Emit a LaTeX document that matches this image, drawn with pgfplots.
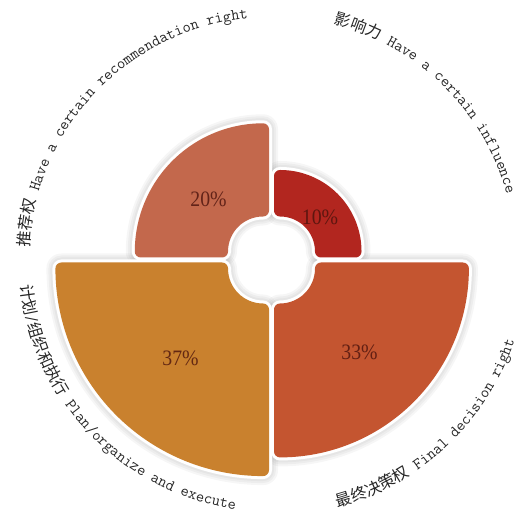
\documentclass[border=0pt]{standalone}
\usepackage{fontspec}
\setmainfont{Liberation Serif}
\newfontfamily\cjk{Noto Sans CJK SC}
\newfontfamily\labfont[FakeStretch=0.9]{Liberation Serif}
\usepackage{pgfplots}
\pgfplotsset{compat=1.18}
\usetikzlibrary{decorations.text}
\definecolor{cA}{HTML}{C3684C}
\definecolor{cB}{HTML}{B2261F}
\definecolor{cC}{HTML}{C45530}
\definecolor{cD}{HTML}{C9812E}
\definecolor{lab}{HTML}{4A120C}
\definecolor{txt}{HTML}{262626}
\newcommand\cjkf{\cjk\fontsize{16}{17}\selectfont}
\newcommand\monof{\ttfamily\fontsize{16}{17}\selectfont}
% #1 style, #2 value (%), #3 start angle, #4 end angle, #5/#6 quadrant signs
\newcommand{\sector}[6]{%
 \addplot[#1, domain=#3:#4, samples=90, line join=round]
 ({#5*8.5+(28.8+4.67*#2)*cos(x)},{#6*8.5+(28.8+4.67*#2)*sin(x)})
 -- ({#5*8.5+41*cos(#4)},{#6*8.5+41*sin(#4)})
 arc[start angle=#4, end angle=#3, radius=41pt] -- cycle;}
\tikzset{shad/.style={draw=black, draw opacity=0.035, fill=none}}
\begin{document}
\begin{tikzpicture}
\begin{axis}[x=1pt, y=1pt, xmin=-271.5, xmax=260.5, ymin=-253, ymax=260,
  hide axis, clip=false]
% soft shadows
\pgfplotsinvokeforeach{30,26,22}{
 \sector{shad, line width=#1pt}{37}{180}{270}{-1}{-1}
 \sector{shad, line width=#1pt}{33}{270}{360}{1}{-1}
 \sector{shad, line width=#1pt}{20}{90}{180}{-1}{1}
 \sector{shad, line width=#1pt}{10}{0}{90}{1}{1}
}
% white rims and coloured sectors
\sector{draw=white, fill=white, line width=18pt}{37}{180}{270}{-1}{-1}
\sector{draw=cD, fill=cD, line width=12pt}{37}{180}{270}{-1}{-1}
\sector{draw=white, fill=white, line width=18pt}{33}{270}{360}{1}{-1}
\sector{draw=cC, fill=cC, line width=12pt}{33}{270}{360}{1}{-1}
\sector{draw=white, fill=white, line width=18pt}{20}{90}{180}{-1}{1}
\sector{draw=cA, fill=cA, line width=12pt}{20}{90}{180}{-1}{1}
\sector{draw=white, fill=white, line width=18pt}{10}{0}{90}{1}{1}
\sector{draw=cB, fill=cB, line width=12pt}{10}{0}{90}{1}{1}
% percentage labels
\addplot[only marks, mark=*, mark size=0pt, mark options={draw opacity=0, fill opacity=0},
  point meta=explicit,
  nodes near coords={\labfont\fontsize{22}{22}\selectfont\pgfmathprintnumber[assume math mode=true]{\pgfplotspointmeta}\%},
  nodes near coords align={anchor=center},
  every node near coord/.append style={text=lab, text opacity=0.8}]
 table[meta=v] {
x y v
-63 61 20
48.5 43 10
88 -92 33
-91 -98.5 37
};
% curved category labels
\path[decorate, decoration={text along path, text color=txt,
  text={|\cjkf|推荐权|\monof| Have a certain recommendation right}}]
  (-242.17,12.69) arc[start angle=177, end angle=60, radius=242.5pt];
\path[decorate, decoration={text along path, text color=txt,
  text={|\cjkf|影响力|\monof| Have a certain influence}}]
  (62.33,236.31) arc[start angle=75.2, end angle=-20, radius=244.5pt];
\path[decorate, decoration={text along path, text color=txt,
  text={|\cjkf|计划|\monof|/|\cjkf|组织和执行|\monof| Plan/organize and execute}}]
  (-250.75,-25.05) arc[start angle=185.7, end angle=300, radius=252pt];
\path[decorate, decoration={text along path, text color=txt,
  text={|\cjkf|最终决策权|\monof| Final decision right}}]
  (66.26,-247.27) arc[start angle=285, end angle=380, radius=256pt];
\end{axis}
\pgfresetboundingbox
\useasboundingbox (current axis.south west) rectangle (current axis.north east);
\end{tikzpicture}
\end{document}
